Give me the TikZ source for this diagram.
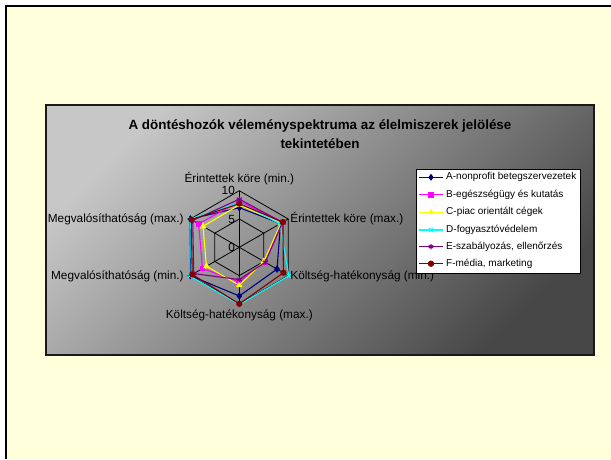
\documentclass[tikz,border=0pt]{standalone}
\usepackage{fontspec}
\setmainfont{Liberation Sans}
\usetikzlibrary{plotmarks}
\definecolor{slideyellow}{RGB}{255,255,220}
\definecolor{serA}{RGB}{0,0,128}
\definecolor{serB}{RGB}{255,0,255}
\definecolor{serC}{RGB}{255,255,0}
\definecolor{serD}{RGB}{0,255,255}
\definecolor{serE}{RGB}{128,0,128}
\definecolor{serF}{RGB}{128,0,0}
\tikzset{
	axislabel/.style = {font=\fontsize{11.8}{13}\selectfont, inner sep=0pt},
	ticklabel/.style = {font=\fontsize{11.8}{13}\selectfont, inner sep=0pt, anchor=east},
	gridline/.style  = {draw=black, line width=0.8pt},
	series/.style    = {line width=1.1pt, mark size=2.9pt, mark options={solid}},
	legendtext/.style= {font=\fontsize{10}{12}\selectfont, inner sep=0pt, anchor=west},
}
\begin{document}
\begin{tikzpicture}[x=1pt,y=-1pt]
	\useasboundingbox (0,0) rectangle (611,459);
	\fill[white] (0,0) rectangle (611,459);
	\fill[slideyellow] (6,6) rectangle (611,459);
	\draw[line width=2.5pt] (6,459) -- (6,6) -- (611,6);
	\shade[top color=black!22, bottom color=black!72, shading angle=45] (46,105) rectangle (594,355);
	\draw[line width=1.8pt, draw=black!90] (46,105) rectangle (594,355);
	\node (title) at (320,134) [align=center, font=\bfseries\fontsize{13.4}{19}\selectfont] {A döntéshozók véleményspektruma az élelmiszerek jelölése\\tekintetében};
	\begin{scope}[shift={(239.3,247.3)}, x=5.66pt, y=5.66pt]
		\foreach \r in {5,10}
			\draw[gridline] (90:\r) -- (30:\r) -- (-30:\r) -- (-90:\r) -- (-150:\r) -- (150:\r) -- cycle;
		\foreach \a in {90,30,-30,-90,-150,150}
			\draw[gridline] (0,0) -- (\a:10);
		\node (t0)  at (-0.75,0)  [ticklabel] {0};
		\node (t5)  at (-0.75,5)  [ticklabel] {5};
		\node (t10) at (-0.75,10) [ticklabel] {10};
		\draw[series, serA] plot[mark=diamond*] coordinates {(90:7.0) (30:8.4) (-30:7.7) (-90:8.6) (-150:10) (150:10)} -- cycle;
		\draw[series, serB] plot[mark=square*, mark size=2.4pt] coordinates {(90:8.1) (30:8.9) (-30:5.2) (-90:6.1) (-150:7.5) (150:8.3)} -- cycle;
		\draw[series, serC] plot[mark=triangle*] coordinates {(90:7.5) (30:8.5) (-30:5.0) (-90:6.7) (-150:6.7) (150:7.4)} -- cycle;
		\draw[series, serD] plot[mark=x] coordinates {(90:7.9) (30:8.3) (-30:10.1) (-90:10.1) (-150:10.1) (150:10)} -- cycle;
		\draw[series, serE] plot[mark=asterisk] coordinates {(90:8.5) (30:8.8) (-30:5.3) (-90:5.7) (-150:9.3) (150:9.5)} -- cycle;
		\draw[series, serF] plot[mark=*, mark size=2.5pt] coordinates {(90:7.7) (30:8.9) (-30:9.0) (-90:10) (-150:9.6) (150:9.8)} -- cycle;
		\node (ax1) at (0,12.1)        [axislabel, anchor=center] {Érintettek köre (min.)};
		\node (ax2) at (9.0,5.0)       [axislabel, anchor=west]   {Érintettek köre (max.)};
		\node (ax3) at (9.0,-5.2)      [axislabel, anchor=west]   {Költség-hatékonyság (min.)};
		\node (ax4) at (0,-12.0)       [axislabel, anchor=center] {Költség-hatékonyság (max.)};
		\node (ax5) at (-9.8,-5.2)     [axislabel, anchor=east]   {Megvalósíthatóság (min.)};
		\node (ax6) at (-9.8,5.0)      [axislabel, anchor=east]   {Megvalósíthatóság (max.)};
	\end{scope}
	\node (legend) at (416,169) [draw=black, fill=white, line width=0.8pt, minimum width=164pt, minimum height=103.5pt, anchor=north west, inner sep=0pt] {};
	\foreach \i/\y/\col/\mk/\txt in {1/177.3/serA/diamond*/{A-nonprofit betegszervezetek},
	                                2/194.7/serB/square*/{B-egészségügy és kutatás},
	                                3/212.3/serC/triangle*/{C-piac orientált cégek},
	                                4/230.0/serD/x/{D-fogyasztóvédelem},
	                                5/246.7/serE/asterisk/{E-szabályozás, ellenőrzés},
	                                6/263.7/serF/*/{F-média, marketing}}
	{
		\draw[series, \col] plot[mark=\mk, mark size=2.6pt, mark indices={2}] coordinates {(419,\y) (431,\y) (443,\y)};
		\node (leg\i) at (446,\y) [legendtext] {\txt};
	}
\end{tikzpicture}
\end{document}
